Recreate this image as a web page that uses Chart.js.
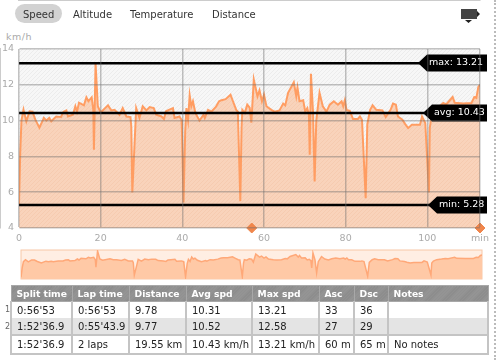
<!DOCTYPE html>
<html>
<head>
<meta charset="utf-8">
<script src="https://cdn.jsdelivr.net/npm/chart.js@4/dist/chart.umd.min.js"></script>
<style>
    html, body { margin: 0; padding: 0; background: #fff; }
    body { width: 500px; height: 360px; overflow: hidden; position: relative; font-family: "DejaVu Sans", sans-serif; }
    #pageEdge { position: absolute; left: 494px; top: 0; height: 360px; border-left: 2px dotted #bbb; }
    .tab { position: absolute; top: 8px; font-size: 10px; line-height: 13px; color: #333; white-space: nowrap; }
    #tabPill { position: absolute; left: 15px; top: 4px; width: 47px; height: 19px; border-radius: 10px; background: #d2d2d2; }
    #unit { position: absolute; left: 6px; top: 31px; font-size: 9.5px; line-height: 12px; color: #aaa; letter-spacing: 0.5px; }
    #icon { position: absolute; left: 458px; top: 6px; }
    #mainChart { position: absolute; left: 0; top: 0; }
    #overview { position: absolute; left: 20px; top: 249px; }
    #splits { position: absolute; left: 10px; top: 285px; width: 477px; height: 69px; border-collapse: collapse; table-layout: fixed; font-size: 10px; color: #222; }
    #splits th { height: 15px; padding: 0 0 0 5px; text-align: left; white-space: nowrap; color: #fff; font-size: 9.2px; border: 1px solid #a8a8a8; background: repeating-linear-gradient(135deg, #8a8a8a 0, #8a8a8a 1px, #979797 1px, #979797 2px); }
    #splits td { height: 16px; padding: 0 0 0 5px; white-space: nowrap; overflow: hidden; border: 2px solid #c4c4c4; border-top: 0; border-bottom: 0; }
    #splits tr.shade td { background: #e4e4e4; }
    #splits tr.total td { height: 17px; border-top: 2px solid #c4c4c4; border-bottom: 2px solid #c4c4c4; }
    .rowNum { position: absolute; left: 5px; font-size: 8px; line-height: 10px; color: #666; }
</style>
</head>
<body>
<div id="pageEdge"></div>
<div id="tabPill"></div>
<div id="tabs"></div>
<div id="unit">km/h</div>
<svg id="icon" width="24" height="18">
    <rect x="3" y="3" width="16" height="10" fill="#444"></rect>
    <path d="M19 5 L22 8 L19 11 Z M7 14 L14 14 L10.5 17 Z" fill="#222"></path>
</svg>
<canvas id="mainChart" width="500" height="250"></canvas>
<canvas id="overview" width="463" height="31"></canvas>
<table id="splits">
    <colgroup id="cols"></colgroup>
    <thead><tr id="headRow"></tr></thead>
    <tbody id="bodyRows"></tbody>
</table>
<div class="rowNum" style="top:305px">1</div>
<div class="rowNum" style="top:322px">2</div>
<script>
"use strict";

const tabNames = ["Speed", "Altitude", "Temperature", "Distance"];

const minutes = [0, 0.3, 0.6, 1.1, 1.8, 2.6, 3.3, 4.0, 5.0, 6.1, 6.7, 7.4, 7.9, 9.1, 10.3, 10.9, 11.6, 12, 13.2, 13.8, 14.2, 14.7, 15.9, 16.5, 17, 17.8, 18.2, 18.35, 18.75, 19.3, 20, 21.8, 22.6, 23.4, 24.6, 25.4, 26.3, 27.3, 27.5, 27.75, 28.4, 28.7, 29.5, 30.3, 31.2, 32, 33, 33.6, 34.9, 35.5, 36, 36.7, 37.7, 38.1, 39.3, 39.8, 39.9, 40.3, 40.7, 41, 41.4, 41.8, 42.2, 42.6, 43.2, 44.2, 45.2, 45.5, 46.3, 47.1, 48.2, 49, 49.6, 50.6, 51.8, 52.4, 53.2, 53.6, 54.2, 54.5, 54.7, 55.3, 55.9, 56.5, 56.9, 57.5, 58.4, 58.9, 59.5, 60, 60.6, 61.8, 62.6, 63.8, 64.7, 65.2, 65.9, 67.3, 67.9, 68.2, 68.7, 69.6, 70.1, 70.6, 71, 71.2, 71.5, 72, 72.4, 72.8, 73.6, 74.4, 75.3, 76.1, 77.1, 78.1, 79, 79.4, 79.8, 80.2, 81, 81.8, 83, 83.5, 84, 84.9, 85.3, 86, 86.6, 87.5, 89, 89.8, 91, 91.6, 92.3, 92.8, 93.9, 94.5, 95.3, 96.2, 97, 98.2, 98.7, 99.5, 100.4, 100.6, 101, 101.8, 103, 103.9, 104.6, 106.2, 106.7, 108.8, 110.8, 111.5, 112, 112.5, 112.9];
const speeds = [5.3, 8.2, 10.0, 10.61, 9.96, 10.52, 10.5, 10.05, 9.6, 10.15, 10.0, 10.15, 9.96, 10.23, 10.2, 10.5, 10.57, 10.23, 10.33, 10.8, 10.5, 11.0, 10.85, 11.3, 11.08, 11.3, 10.6, 8.37, 13.21, 10.8, 10.45, 10.85, 10.57, 10.6, 10.33, 10.7, 10.23, 10.2, 9.67, 5.98, 9.2, 10.7, 10.15, 10.8, 10.57, 10.76, 10.7, 10.33, 10.23, 10.09, 10.52, 10.6, 10.7, 10.15, 10.23, 10.05, 9.5, 5.42, 9.4, 10.7, 10.05, 11.41, 10.8, 11.08, 10.43, 10.0, 10.33, 10.15, 10.6, 10.5, 10.76, 11.08, 11.14, 11.2, 11.45, 11.08, 10.6, 10.5, 5.5, 9.6, 10.6, 10.43, 10.89, 10.72, 9.88, 12.29, 11.36, 11.69, 11.08, 11.45, 10.8, 10.6, 10.5, 10.57, 10.95, 10.85, 11.55, 12.14, 11.36, 11.84, 11.08, 11.14, 10.5, 10.7, 10.33, 8.09, 12.61, 10.5, 6.6, 10.0, 11.55, 10.8, 10.5, 10.89, 11.08, 10.89, 11.08, 10.8, 11.14, 10.6, 10.55, 10.09, 10.09, 10.23, 10.05, 5.66, 9.8, 10.6, 10.85, 10.6, 10.57, 10.2, 10.6, 10.95, 10.89, 10.23, 10.05, 9.83, 9.58, 9.77, 9.77, 9.77, 10.23, 9.87, 5.98, 9.6, 10.2, 10.6, 10.8, 10.98, 10.9, 11.32, 11.0, 10.95, 10.98, 11.32, 11.27, 11.88, 12.0];

const refNames = ["max", "avg", "min"];
const refValues = [13.21, 10.43, 5.28];
const refTexts = ["max: 13.21", "avg: 10.43", "min: 5.28"];
const refTagLeft = [418, 423, 428];

const markerMinutes = [57, 112.9];
const markerValues = [4, 4];

const xTicks = [0, 20, 40, 60, 80, 100, 112.9];
const xEnd = 112.9;

const tabLefts = [23, 73, 130, 212];

const headers = ["Split time", "Lap time", "Distance", "Avg spd", "Max spd", "Asc", "Dsc", "Notes"];
const colWidths = [61, 57, 57, 66, 67, 35, 34, 100];
const rowOne = ["0:56'53", "0:56'53", "9.78", "10.31", "13.21", "33", "36", ""];
const rowTwo = ["1:52'36.9", "0:55'43.9", "9.77", "10.52", "12.58", "27", "29", ""];
const rowTotal = ["1:52'36.9", "2 laps", "19.55 km", "10.43 km/h", "13.21 km/h", "60 m", "65 m", "No notes"];

tabNames.forEach((name, i) => {
    const tab = document.createElement("div");
    tab.className = "tab";
    tab.style.left = tabLefts[i] + "px";
    tab.textContent = name;
    document.body.appendChild(tab);
});

colWidths.forEach((w) => {
    const col = document.createElement("col");
    col.style.width = w + "px";
    document.querySelector("#cols").appendChild(col);
});
headers.forEach((text) => {
    const th = document.createElement("th");
    th.textContent = text;
    document.querySelector("#headRow").appendChild(th);
});
[[rowOne, ""], [rowTwo, "shade"], [rowTotal, "total"]].forEach(([cells, cls]) => {
    const tr = document.createElement("tr");
    tr.className = cls;
    cells.forEach((text) => {
        const td = document.createElement("td");
        td.textContent = text;
        tr.appendChild(td);
    });
    document.querySelector("#bodyRows").appendChild(tr);
});

function hatch(base, stripe) {
    const c = document.createElement("canvas");
    c.width = 4;
    c.height = 4;
    const g = c.getContext("2d");
    g.fillStyle = base;
    g.fillRect(0, 0, 4, 4);
    g.strokeStyle = stripe;
    g.lineWidth = 1;
    g.beginPath();
    g.moveTo(-1, 1);
    g.lineTo(1, -1);
    g.moveTo(0, 4);
    g.lineTo(4, 0);
    g.moveTo(3, 5);
    g.lineTo(5, 3);
    g.stroke();
    return g.createPattern(c, "repeat");
}

const speedPoints = minutes.map((m, i) => ({ x: m, y: speeds[i] }));

const plotBackground = {
    id: "plotBackground",
    beforeDatasetsDraw(chart) {
        const { ctx, chartArea: a } = chart;
        ctx.save();
        ctx.fillStyle = hatch("#f7f7f7", "#ececec");
        ctx.fillRect(a.left, a.top, a.right - a.left, a.bottom - a.top);
        ctx.restore();
    },
};

const refTags = {
    id: "refTags",
    afterDatasetsDraw(chart) {
        const { ctx, scales } = chart;
        refValues.forEach((v, i) => {
            const y = Math.round(scales.y.getPixelForValue(v));
            const tip = refTagLeft[i];
            ctx.save();
            ctx.fillStyle = "#000";
            ctx.beginPath();
            ctx.moveTo(tip, y);
            ctx.lineTo(tip + 9, y - 8.5);
            ctx.lineTo(487, y - 8.5);
            ctx.lineTo(487, y + 8.5);
            ctx.lineTo(tip + 9, y + 8.5);
            ctx.closePath();
            ctx.fill();
            ctx.fillStyle = "#fff";
            ctx.font = '9.5px "DejaVu Sans"';
            ctx.textBaseline = "middle";
            ctx.fillText(refTexts[i], tip + 11, y);
            ctx.restore();
        });
    },
};

Chart.defaults.animation = false;

new Chart(document.querySelector("#mainChart"), {
    type: "line",
    data: {
        datasets: [
            {
                label: "Speed",
                data: speedPoints,
                borderColor: "#ff9d62",
                borderWidth: 2,
                backgroundColor: hatch("#f9d3bb", "#f6cbb0"),
                fill: "start",
                pointRadius: 0,
                tension: 0,
                order: 3,
            },
            ...refNames.map((name, i) => ({
                label: name,
                data: [{ x: 0, y: refValues[i] }, { x: xEnd, y: refValues[i] }],
                borderColor: "#000",
                borderWidth: 2.5,
                pointRadius: 0,
                fill: false,
                order: 2,
            })),
            {
                label: "markers",
                data: markerMinutes.map((m, i) => ({ x: m, y: markerValues[i] })),
                showLine: false,
                pointStyle: "rectRot",
                pointRadius: 5,
                pointBackgroundColor: "#f0864c",
                pointBorderColor: "#f0864c",
                clip: false,
                order: 1,
            },
        ],
    },
    options: {
        responsive: false,
        layout: { padding: { top: 49, right: 20, left: 0, bottom: 0 } },
        plugins: { legend: { display: false }, tooltip: { enabled: false } },
        scales: {
            x: {
                type: "linear",
                min: 0,
                max: xEnd,
                afterBuildTicks: (axis) => {
                    axis.ticks = xTicks.map((v) => ({ value: v }));
                },
                afterFit: (axis) => {
                    axis.height = 22;
                },
                ticks: {
                    autoSkip: false,
                    maxRotation: 0,
                    padding: 5,
                    color: "#aaa",
                    font: { family: "DejaVu Sans", size: 9.5 },
                    callback: (v) => (v === xEnd ? "min" : v),
                },
                grid: { z: 1, color: "rgba(110,110,110,0.42)", lineWidth: 1.5, drawTicks: false },
                border: { color: "#bbb", width: 1.5 },
            },
            y: {
                min: 4,
                max: 14,
                afterFit: (axis) => {
                    axis.width = 19;
                },
                ticks: {
                    stepSize: 2,
                    padding: 5,
                    color: "#aaa",
                    font: { family: "DejaVu Sans", size: 9.5 },
                },
                grid: { z: 1, color: "rgba(110,110,110,0.42)", lineWidth: 1.5, drawTicks: false },
                border: { color: "#bbb", width: 1.5 },
            },
        },
    },
    plugins: [plotBackground, refTags],
});

const overviewBackground = {
    id: "overviewBackground",
    beforeDatasetsDraw(chart) {
        const { ctx, chartArea: a } = chart;
        ctx.save();
        ctx.fillStyle = "#ffeee3";
        ctx.fillRect(a.left, a.top, a.right - a.left, a.bottom - a.top);
        ctx.strokeStyle = "#f8c8a8";
        ctx.strokeRect(a.left, a.top, a.right - a.left, a.bottom - a.top);
        ctx.restore();
    },
};

new Chart(document.querySelector("#overview"), {
    type: "line",
    data: {
        datasets: [
            {
                data: speedPoints,
                borderColor: "#ffa878",
                borderWidth: 1.5,
                backgroundColor: "#ffc9a6",
                fill: "start",
                pointRadius: 0,
                tension: 0,
            },
        ],
    },
    options: {
        responsive: false,
        layout: { padding: { left: 1, right: 1, top: 1, bottom: 1 } },
        plugins: { legend: { display: false }, tooltip: { enabled: false } },
        scales: {
            x: { type: "linear", min: 0, max: xEnd, display: false },
            y: { min: 4.8, max: 13.5, display: false },
        },
    },
    plugins: [overviewBackground],
});
</script>
</body>
</html>
